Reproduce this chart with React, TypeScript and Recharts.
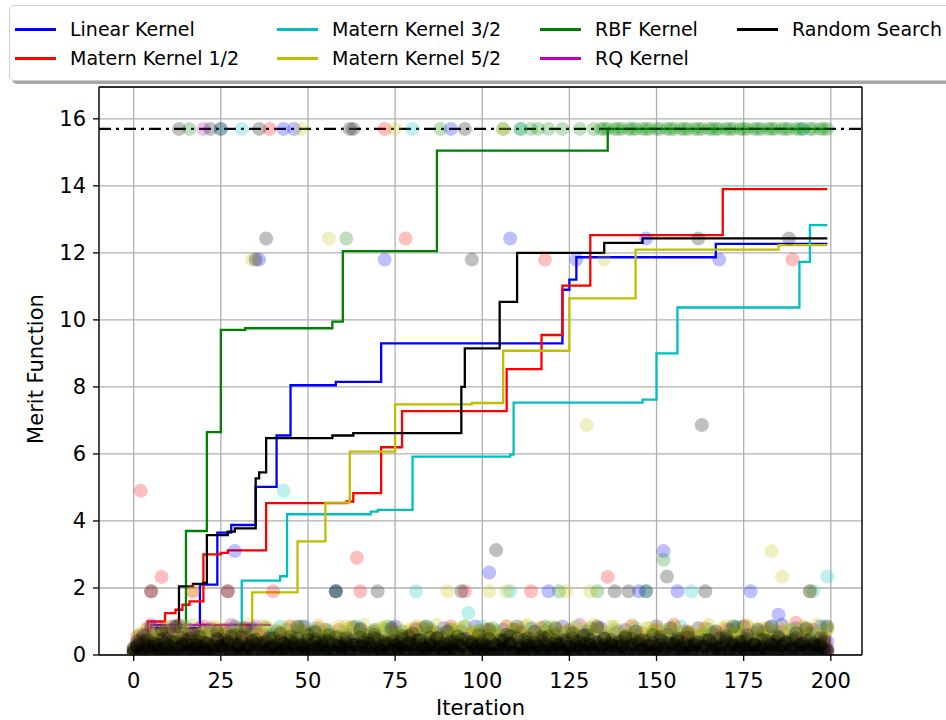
import React from "react";
import {
  ComposedChart,
  Scatter,
  Line,
  XAxis,
  YAxis,
  CartesianGrid,
  ReferenceLine,
} from "recharts";

const xTicks = [0, 25, 50, 75, 100, 125, 150, 175, 200];
const yTicks = [0, 2, 4, 6, 8, 10, 12, 14, 16];
const optimum = 15.7;

// merit value sampled at each iteration (index = iteration)
const linearPts = [
  0.1, 0.3, 0.5, 0.2, 0.6, 0.8, 0.4, 0.15, 0.7, 0.3, 0.05, 0.55, 0.2, 0.85, 0.35, 0.1, 0.6, 0.25, 0.45, 0.8,
  0.3, 0.1, 0.65, 0.2, 0.5, 15.7, 0.4, 0.15, 0.75, 3.1, 0.25, 0.6, 0.05, 0.45, 0.8, 0.2, 11.8, 0.35, 0.1, 0.55,
  0.3, 0.7, 0.15, 15.7, 0.5, 0.25, 15.7, 0.6, 0.1, 0.85, 0.35, 0.2, 0.65, 0.05, 0.4, 0.75, 0.3, 0.15, 1.9, 0.5,
  0.2, 0.6, 15.7, 0.35, 0.1, 0.8, 0.25, 0.45, 0.05, 0.7, 0.3, 0.55, 11.8, 0.15, 0.4, 0.85, 0.2, 0.6, 0.1, 0.5,
  0.35, 0.75, 0.2, 0.45, 0.05, 0.65, 0.3, 0.15, 0.55, 0.8, 0.25, 15.7, 0.4, 0.1, 0.7, 0.3, 0.5, 0.2, 0.85, 0.35,
  0.15, 0.6, 2.46, 0.25, 0.45, 0.1, 0.75, 0.3, 12.43, 0.55, 0.2, 0.65, 0.05, 0.4, 0.8, 0.25, 0.5, 0.15, 0.7, 1.9,
  0.3, 0.55, 0.1, 0.85, 0.4, 0.2, 0.6, 11.8, 0.35, 0.05, 0.7, 0.25, 0.45, 0.15, 0.8, 0.3, 0.5, 0.1, 0.65, 0.4,
  0.2, 0.75, 0.35, 0.05, 0.55, 1.9, 0.25, 12.43, 0.45, 0.1, 0.85, 0.3, 3.1, 0.6, 0.15, 0.4, 1.9, 0.2, 0.7, 0.35,
  0.5, 0.1, 0.8, 0.25, 0.45, 0.05, 0.65, 0.3, 11.8, 0.55, 0.2, 0.75, 0.4, 0.15, 0.6, 0.85, 0.3, 1.9, 0.1, 0.5,
  0.25, 0.7, 0.45, 0.05, 0.6, 1.2, 0.9, 0.35, 0.15, 0.55, 0.8, 0.2, 0.45, 0.1, 0.65, 0.3, 0.5, 0.85, 0.2, 0.4,
];

const matern12Pts = [
  0.2, 0.55, 4.9, 0.35, 0.8, 1.9, 0.15, 0.6, 2.33, 0.4, 0.05, 0.7, 0.25, 0.9, 0.45, 0.1, 0.65, 1.9, 0.3, 0.5,
  0.85, 0.2, 0.4, 0.05, 0.6, 0.3, 0.75, 1.9, 0.15, 0.5, 0.35, 0.8, 0.1, 0.45, 0.25, 0.7, 0.05, 0.55, 0.3, 15.7,
  1.9, 0.2, 0.6, 0.4, 0.1, 0.85, 0.3, 0.5, 0.15, 0.7, 0.25, 0.45, 0.05, 0.8, 0.35, 0.6, 0.2, 0.4, 0.1, 0.75,
  0.3, 0.55, 0.15, 0.85, 2.9, 1.9, 0.4, 0.05, 0.65, 0.25, 0.5, 0.1, 15.7, 0.35, 0.7, 0.2, 0.45, 0.05, 12.43, 0.6,
  0.3, 0.8, 0.15, 0.5, 0.35, 0.05, 0.7, 0.25, 0.6, 0.1, 0.45, 0.85, 0.2, 0.55, 0.35, 1.9, 0.15, 0.65, 0.3, 0.05,
  0.5, 0.75, 0.2, 0.4, 0.1, 0.6, 0.3, 0.85, 0.15, 0.45, 0.05, 0.7, 0.25, 0.55, 1.9, 0.35, 0.1, 0.8, 11.8, 0.4,
  0.2, 0.65, 0.05, 0.5, 0.3, 0.75, 0.15, 0.45, 0.9, 0.25, 0.6, 0.1, 0.4, 0.8, 0.2, 0.55, 2.33, 0.35, 0.05, 0.7,
  0.3, 0.5, 0.15, 0.85, 0.4, 0.1, 0.65, 0.25, 0.45, 0.05, 0.75, 0.35, 0.2, 0.6, 0.1, 0.9, 0.3, 0.5, 0.15, 0.7,
  0.4, 0.05, 0.55, 0.25, 0.8, 0.35, 0.1, 0.6, 0.2, 0.45, 0.75, 0.3, 0.05, 0.5, 0.15, 0.85, 0.4, 0.25, 0.65, 0.1,
  0.55, 0.3, 0.8, 0.15, 0.45, 0.05, 0.7, 0.35, 0.2, 11.8, 0.96, 0.4, 0.1, 0.6, 0.25, 0.75, 0.3, 0.05, 0.5, 0.2,
];

const matern32Pts = [
  0.05, 0.25, 0.1, 0.4, 0.2, 0.6, 0.15, 0.35, 0.05, 0.5, 0.3, 0.75, 0.1, 0.45, 0.2, 0.85, 0.35, 0.05, 0.55, 0.25,
  0.4, 0.7, 0.15, 0.5, 0.3, 0.05, 0.65, 0.2, 0.45, 0.8, 0.1, 15.7, 0.35, 0.55, 0.2, 0.75, 0.05, 0.4, 0.3, 0.6,
  0.15, 0.5, 0.85, 4.9, 0.25, 0.45, 0.1, 0.7, 0.35, 0.05, 0.55, 0.2, 0.8, 0.4, 0.15, 0.6, 0.3, 0.05, 0.5, 0.25,
  0.7, 0.1, 0.45, 0.3, 0.85, 0.2, 0.55, 0.05, 0.4, 0.65, 0.15, 0.35, 0.75, 0.25, 0.5, 0.1, 0.6, 0.3, 0.45, 0.05,
  15.7, 1.9, 0.2, 0.55, 0.35, 0.8, 0.1, 0.45, 0.25, 0.65, 0.05, 0.4, 0.7, 0.2, 0.5, 0.3, 1.25, 0.15, 0.6, 0.35,
  0.85, 0.1, 0.45, 0.25, 0.7, 0.05, 0.5, 0.3, 1.9, 0.2, 0.6, 15.7, 0.4, 0.15, 0.75, 0.35, 0.05, 0.55, 0.25, 0.8,
  0.1, 0.45, 0.3, 0.65, 0.2, 0.5, 0.05, 0.85, 0.35, 0.15, 0.6, 0.25, 0.4, 0.7, 0.1, 0.55, 0.3, 0.05, 0.75, 0.2,
  0.45, 0.6, 0.15, 0.35, 0.8, 0.05, 0.5, 1.9, 0.25, 0.65, 0.1, 0.4, 0.3, 0.7, 0.2, 0.55, 0.05, 0.85, 0.35, 0.15,
  1.9, 0.45, 0.25, 0.6, 0.1, 0.75, 0.3, 0.5, 0.05, 0.4, 0.2, 0.65, 0.35, 0.8, 0.15, 0.45, 0.05, 0.55, 0.3, 0.7,
  0.2, 0.5, 0.1, 0.85, 0.35, 0.6, 0.25, 0.05, 0.45, 0.75, 0.15, 0.4, 15.7, 0.3, 0.55, 1.9, 0.65, 0.2, 0.85, 2.34,
];

const matern52Pts = [
  0.02, 0.15, 0.3, 0.1, 0.45, 0.2, 0.6, 0.05, 0.35, 0.75, 0.25, 0.5, 0.1, 0.4, 0.85, 0.2, 0.55, 1.9, 0.3, 0.05,
  0.65, 0.35, 0.15, 0.5, 0.8, 0.25, 0.05, 0.6, 0.4, 0.2, 0.7, 0.1, 0.45, 0.3, 11.8, 0.55, 0.15, 0.85, 0.35, 0.05,
  0.5, 0.25, 0.7, 0.1, 0.4, 0.6, 0.2, 0.8, 15.7, 0.3, 0.05, 0.55, 0.35, 0.15, 0.75, 0.45, 12.43, 0.25, 0.6, 0.1,
  0.4, 0.85, 15.7, 0.2, 0.5, 0.05, 0.7, 0.3, 0.15, 0.55, 0.35, 0.8, 0.1, 0.45, 0.25, 15.7, 0.6, 0.05, 0.4, 0.75,
  0.2, 0.5, 0.3, 0.85, 0.1, 0.65, 0.35, 0.05, 0.45, 0.25, 1.9, 0.6, 0.15, 0.8, 0.4, 0.2, 0.55, 0.05, 0.7, 0.3,
  0.45, 0.1, 1.9, 0.65, 0.25, 0.5, 15.7, 1.9, 0.35, 0.75, 0.15, 0.4, 0.85, 0.05, 0.6, 0.3, 0.5, 0.2, 0.7, 0.1,
  0.55, 0.35, 0.8, 0.15, 1.9, 0.45, 0.05, 0.65, 0.25, 0.4, 6.86, 1.9, 0.3, 0.75, 0.1, 11.8, 0.5, 0.2, 0.85, 0.35,
  0.05, 0.6, 0.25, 0.45, 0.7, 0.15, 0.5, 0.35, 0.8, 0.1, 0.4, 0.65, 0.2, 0.55, 0.05, 0.85, 0.3, 0.45, 0.15, 0.7,
  0.25, 0.6, 0.1, 0.4, 0.75, 0.2, 0.5, 0.05, 0.35, 0.8, 0.15, 0.55, 0.3, 0.65, 0.1, 0.45, 0.85, 0.25, 0.6, 0.35,
  0.05, 0.7, 0.2, 3.1, 0.5, 0.3, 2.34, 0.15, 0.75, 0.4, 0.1, 0.55, 0.85, 0.25, 1.9, 0.45, 0.05, 0.6, 0.3, 0.8,
];

// second batch of Matern 5/2 samples, all in the low band
const matern52Batch2 = [
  0.2, 0.45, 0.65, 0.3, 0.8, 0.5, 0.35, 0.7, 0.55, 0.25, 0.85, 0.4, 0.6, 0.3, 0.75, 0.5, 0.35, 0.9, 0.45, 0.6,
  0.7, 0.4, 0.55, 0.85, 0.3, 0.65, 0.45, 0.8, 0.35, 0.6, 0.5, 0.75, 0.4, 0.9, 0.55, 0.3, 0.7, 0.45, 0.85, 0.5,
  0.35, 0.75, 0.6, 0.4, 0.85, 0.5, 0.3, 0.7, 0.45, 0.8, 0.55, 0.35, 0.65, 0.9, 0.4, 0.6, 0.75, 0.3, 0.5, 0.85,
  0.6, 0.45, 0.8, 0.35, 0.7, 0.55, 0.9, 0.4, 0.65, 0.3, 0.75, 0.5, 0.85, 0.45, 0.6, 0.35, 0.8, 0.55, 0.4, 0.7,
  0.5, 0.85, 0.4, 0.65, 0.3, 0.75, 0.55, 0.9, 0.45, 0.6, 0.35, 0.8, 0.5, 0.7, 0.4, 0.85, 0.3, 0.65, 0.55, 0.75,
  0.4, 0.6, 0.8, 0.45, 0.7, 0.35, 0.55, 0.85, 0.5, 0.3, 0.75, 0.6, 0.4, 0.9, 0.65, 0.45, 0.8, 0.35, 0.55, 0.7,
  0.85, 0.5, 0.35, 0.7, 0.6, 0.4, 0.8, 0.55, 0.3, 0.75, 0.45, 0.65, 0.9, 0.5, 0.35, 0.7, 0.6, 0.85, 0.4, 0.55,
  0.45, 0.7, 0.55, 0.9, 0.35, 0.6, 0.5, 0.8, 0.4, 0.65, 0.85, 0.3, 0.75, 0.55, 0.45, 0.8, 0.35, 0.6, 0.7, 0.5,
  0.65, 0.35, 0.8, 0.5, 0.6, 0.9, 0.4, 0.7, 0.55, 0.3, 0.85, 0.45, 0.65, 0.75, 0.35, 0.55, 0.9, 0.5, 0.4, 0.8,
  0.55, 0.8, 0.4, 0.7, 0.45, 0.65, 0.85, 0.35, 0.6, 0.75, 0.5, 0.3, 0.8, 0.55, 0.7, 0.4, 0.9, 0.6, 0.45, 0.75,
];

const rbfPts = [
  0.1, 0.35, 0.6, 0.2, 0.45, 0.8, 0.05, 0.5, 0.3, 0.7, 0.15, 0.4, 0.85, 0.25, 0.55, 0.1, 15.7, 0.35, 0.65, 0.2,
  0.45, 0.05, 0.75, 0.3, 0.5, 15.7, 0.15, 0.6, 0.4, 0.85, 0.2, 0.05, 0.55, 0.35, 0.7, 0.1, 0.45, 0.25, 0.8, 0.3,
  0.6, 0.15, 0.4, 0.05, 0.75, 0.25, 0.5, 0.35, 0.85, 0.1, 0.45, 0.65, 0.2, 0.3, 0.55, 0.05, 0.7, 0.4, 1.9, 0.15,
  0.5, 12.43, 0.25, 0.8, 0.35, 0.1, 0.6, 0.45, 0.2, 0.75, 0.05, 0.4, 0.3, 0.85, 0.15, 0.55, 0.25, 0.7, 0.05, 0.45,
  0.35, 0.6, 0.1, 0.8, 0.3, 0.5, 0.2, 0.65, 15.7, 0.4, 0.05, 0.75, 0.25, 0.55, 0.15, 0.85, 0.35, 0.1, 0.45, 0.7,
  0.2, 0.55, 0.3, 0.8, 0.05, 0.4, 15.7, 0.6, 0.25, 0.75, 0.15, 15.7, 0.5, 0.35, 15.7, 0.1, 15.7, 0.45, 0.85, 15.7,
  0.3, 0.6, 1.9, 15.7, 0.2, 0.7, 0.05, 0.4, 15.7, 0.55, 0.25, 0.8, 15.7, 1.9, 15.7, 15.7, 15.7, 0.35, 15.7, 15.7,
  15.7, 0.5, 15.7, 15.7, 15.7, 0.15, 15.7, 15.7, 15.7, 0.7, 15.7, 15.7, 2.84, 15.7, 15.7, 15.7, 0.4, 15.7, 15.7, 15.7,
  0.25, 15.7, 15.7, 15.7, 0.6, 15.7, 15.7, 15.7, 15.7, 0.1, 15.7, 15.7, 15.7, 0.85, 15.7, 15.7, 15.7, 0.3, 15.7, 15.7,
  15.7, 0.55, 15.7, 15.7, 15.7, 0.2, 15.7, 15.7, 15.7, 0.45, 15.7, 15.7, 15.7, 0.75, 15.7, 15.7, 0.05, 15.7, 15.7, 15.7,
];

// RQ kernel only ran 40 iterations
const rqPts = [
  0.05, 0.3, 0.45, 0.15, 0.6, 0.9, 0.25, 0.5, 0.1, 0.7, 0.35, 0.85, 0.2, 0.55, 0.05, 0.4, 0.75, 0.3, 0.6, 0.15,
  15.7, 0.45, 0.8, 0.25, 0.5, 0.1, 0.65, 0.35, 0.9, 0.2, 0.55, 0.05, 0.4, 0.7, 0.3, 0.85, 0.15, 0.6, 0.45, 0.25,
];

const randomPts = [
  0.15, 0.4, 0.05, 0.6, 0.25, 1.9, 0.35, 0.1, 0.75, 0.2, 0.5, 0.05, 0.85, 15.7, 0.3, 0.45, 0.1, 0.65, 0.2, 0.55,
  0.05, 0.35, 15.7, 0.15, 0.7, 0.25, 0.45, 1.9, 0.1, 0.6, 0.3, 0.05, 0.8, 0.2, 0.4, 11.8, 15.7, 0.15, 12.43, 0.5,
  0.25, 0.05, 0.65, 0.35, 0.1, 0.55, 0.2, 0.85, 0.3, 0.05, 0.45, 0.15, 0.7, 0.25, 0.4, 0.1, 0.6, 0.05, 1.9, 0.35,
  0.2, 0.5, 0.1, 15.7, 0.3, 0.75, 0.05, 0.45, 0.25, 0.6, 1.9, 0.15, 0.4, 0.05, 0.8, 0.3, 0.2, 0.55, 0.1, 0.35,
  0.65, 0.05, 0.45, 0.2, 0.85, 0.3, 0.1, 0.5, 0.25, 0.05, 0.7, 0.35, 0.15, 0.55, 1.9, 15.7, 0.4, 11.8, 0.2, 0.6,
  0.1, 0.3, 0.75, 0.05, 3.13, 0.45, 0.2, 0.6, 0.35, 0.1, 0.85, 0.25, 0.05, 0.5, 0.3, 0.7, 0.15, 0.4, 0.05, 0.55,
  0.2, 0.8, 0.35, 0.1, 0.45, 0.05, 0.65, 0.25, 0.4, 0.15, 0.6, 0.3, 0.05, 0.85, 0.2, 0.5, 0.1, 0.35, 1.9, 0.25,
  0.05, 0.55, 1.9, 0.3, 0.7, 0.15, 0.45, 1.9, 0.1, 0.6, 0.25, 0.05, 0.4, 2.34, 0.8, 0.2, 0.5, 0.1, 0.35, 0.65,
  0.05, 0.3, 12.43, 6.86, 1.9, 0.45, 0.15, 0.7, 0.25, 0.05, 0.55, 0.35, 0.85, 0.1, 0.4, 0.2, 0.6, 0.05, 0.3, 0.75,
  0.15, 0.45, 0.05, 0.85, 0.25, 0.55, 0.1, 0.4, 12.43, 0.2, 0.65, 0.05, 0.35, 0.8, 1.9, 0.3, 0.15, 0.5, 0.05, 0.85,
];

// extra random-search batches, they pile up near zero
const randomBatch2 = [
  0.2, 0.05, 0.35, 0.1, 0.45, 0.25, 0.02, 0.3, 0.15, 0.5, 0.08, 0.4, 0.22, 0.03, 0.33, 0.12, 0.48, 0.18, 0.28, 0.06,
  0.38, 0.14, 0.02, 0.26, 0.44, 0.1, 0.32, 0.2, 0.55, 0.05, 0.24, 0.4, 0.12, 0.3, 0.02, 0.46, 0.16, 0.36, 0.08, 0.22,
  0.5, 0.18, 0.04, 0.34, 0.12, 0.42, 0.26, 0.06, 0.3, 0.2, 0.6, 0.1, 0.38, 0.02, 0.24, 0.44, 0.14, 0.32, 0.08, 0.28,
  0.16, 0.4, 0.06, 0.3, 0.22, 0.52, 0.02, 0.36, 0.18, 0.1, 0.46, 0.26, 0.04, 0.34, 0.14, 0.42, 0.2, 0.08, 0.3, 0.56,
  0.1, 0.28, 0.44, 0.04, 0.2, 0.36, 0.12, 0.5, 0.24, 0.02, 0.32, 0.16, 0.4, 0.08, 0.26, 0.48, 0.06, 0.34, 0.18, 0.3,
  0.42, 0.08, 0.22, 0.36, 0.02, 0.28, 0.46, 0.14, 0.32, 0.06, 0.5, 0.2, 0.1, 0.38, 0.24, 0.04, 0.3, 0.54, 0.16, 0.26,
  0.06, 0.34, 0.18, 0.44, 0.1, 0.26, 0.02, 0.4, 0.2, 0.58, 0.12, 0.3, 0.08, 0.36, 0.22, 0.48, 0.04, 0.28, 0.14, 0.38,
  0.24, 0.5, 0.1, 0.32, 0.04, 0.42, 0.18, 0.28, 0.06, 0.36, 0.14, 0.46, 0.22, 0.02, 0.34, 0.12, 0.4, 0.26, 0.08, 0.52,
  0.3, 0.14, 0.38, 0.06, 0.24, 0.44, 0.1, 0.32, 0.2, 0.02, 0.48, 0.16, 0.36, 0.08, 0.28, 0.42, 0.04, 0.22, 0.34, 0.12,
  0.46, 0.2, 0.06, 0.3, 0.4, 0.12, 0.26, 0.02, 0.36, 0.18, 0.5, 0.08, 0.32, 0.24, 0.44, 0.1, 0.28, 0.04, 0.38, 0.16,
];

const randomBatch3 = [
  0.04, 0.28, 0.12, 0.4, 0.2, 0.06, 0.34, 0.16, 0.46, 0.02, 0.26, 0.1, 0.38, 0.22, 0.5, 0.08, 0.3, 0.14, 0.42, 0.24,
  0.1, 0.36, 0.2, 0.04, 0.48, 0.28, 0.14, 0.4, 0.06, 0.32, 0.18, 0.52, 0.02, 0.26, 0.44, 0.12, 0.34, 0.08, 0.4, 0.2,
  0.3, 0.06, 0.42, 0.16, 0.26, 0.02, 0.36, 0.5, 0.1, 0.22, 0.32, 0.04, 0.46, 0.18, 0.28, 0.08, 0.4, 0.14, 0.54, 0.24,
  0.02, 0.32, 0.14, 0.44, 0.08, 0.26, 0.38, 0.18, 0.04, 0.5, 0.22, 0.12, 0.34, 0.06, 0.42, 0.28, 0.16, 0.48, 0.1, 0.36,
  0.22, 0.44, 0.06, 0.3, 0.16, 0.52, 0.26, 0.02, 0.36, 0.12, 0.2, 0.42, 0.08, 0.32, 0.46, 0.14, 0.04, 0.38, 0.24, 0.1,
  0.34, 0.16, 0.48, 0.04, 0.28, 0.1, 0.4, 0.22, 0.56, 0.12, 0.3, 0.02, 0.44, 0.18, 0.08, 0.36, 0.26, 0.14, 0.5, 0.06,
  0.18, 0.42, 0.28, 0.08, 0.36, 0.14, 0.5, 0.04, 0.24, 0.32, 0.1, 0.46, 0.2, 0.38, 0.02, 0.3, 0.12, 0.44, 0.26, 0.06,
  0.4, 0.1, 0.24, 0.48, 0.02, 0.34, 0.16, 0.42, 0.28, 0.08, 0.2, 0.54, 0.12, 0.36, 0.06, 0.3, 0.46, 0.18, 0.04, 0.26,
  0.14, 0.38, 0.02, 0.26, 0.44, 0.1, 0.32, 0.2, 0.5, 0.06, 0.4, 0.16, 0.28, 0.04, 0.36, 0.22, 0.48, 0.12, 0.3, 0.08,
  0.24, 0.06, 0.4, 0.16, 0.3, 0.5, 0.1, 0.36, 0.02, 0.44, 0.2, 0.28, 0.08, 0.42, 0.14, 0.34, 0.04, 0.26, 0.46, 0.12,
];

const randomBatch4 = [
  0.1, 0.22, 0.02, 0.3, 0.14, 0.06, 0.26, 0.18, 0.04, 0.34, 0.12, 0.24, 0.02, 0.2, 0.08, 0.32, 0.16, 0.04, 0.28, 0.1,
  0.2, 0.06, 0.3, 0.12, 0.02, 0.24, 0.16, 0.34, 0.08, 0.18, 0.28, 0.04, 0.14, 0.22, 0.02, 0.32, 0.1, 0.26, 0.06, 0.18,
  0.04, 0.28, 0.12, 0.2, 0.32, 0.08, 0.16, 0.02, 0.26, 0.14, 0.06, 0.3, 0.2, 0.1, 0.34, 0.04, 0.22, 0.12, 0.28, 0.08,
  0.24, 0.02, 0.18, 0.3, 0.1, 0.06, 0.26, 0.14, 0.32, 0.04, 0.2, 0.12, 0.28, 0.02, 0.16, 0.08, 0.34, 0.22, 0.06, 0.14,
  0.3, 0.12, 0.04, 0.22, 0.16, 0.28, 0.02, 0.18, 0.1, 0.32, 0.06, 0.24, 0.14, 0.04, 0.26, 0.2, 0.08, 0.3, 0.12, 0.02,
  0.16, 0.26, 0.08, 0.02, 0.3, 0.14, 0.2, 0.06, 0.34, 0.1, 0.22, 0.04, 0.18, 0.28, 0.12, 0.02, 0.24, 0.08, 0.32, 0.16,
  0.06, 0.2, 0.3, 0.12, 0.02, 0.24, 0.1, 0.28, 0.16, 0.04, 0.34, 0.18, 0.08, 0.26, 0.14, 0.02, 0.22, 0.3, 0.1, 0.06,
  0.28, 0.14, 0.04, 0.2, 0.32, 0.08, 0.18, 0.02, 0.26, 0.12, 0.06, 0.3, 0.16, 0.22, 0.04, 0.34, 0.1, 0.2, 0.02, 0.24,
  0.12, 0.3, 0.06, 0.18, 0.26, 0.02, 0.14, 0.22, 0.08, 0.32, 0.1, 0.04, 0.28, 0.16, 0.2, 0.06, 0.24, 0.02, 0.3, 0.12,
  0.22, 0.04, 0.16, 0.34, 0.08, 0.2, 0.28, 0.12, 0.02, 0.26, 0.14, 0.3, 0.06, 0.18, 0.1, 0.24, 0.02, 0.32, 0.16, 0.08,
];

// best merit found so far: [iteration, value] at every change
const linearBest = [
  [0, 0.2], [2, 0.5], [5, 0.8], [19, 2.1], [24, 3.65], [28, 3.88], [35, 5.02], [41, 6.55],
  [45, 8.05], [58, 8.15], [71, 9.3], [123, 10.9], [125, 11.2], [127, 11.87], [167, 12.27], [199, 12.27],
];
const matern12Best = [
  [0, 0.3], [1, 0.6], [4, 1.0], [9, 1.25], [12, 1.35], [14, 1.5], [16, 1.6], [20, 3.0], [25, 3.05],
  [27, 3.12], [38, 4.53], [61, 4.58], [63, 4.83], [71, 6.2], [77, 7.28], [107, 8.53], [117, 9.55],
  [123, 11.02], [131, 12.53], [169, 13.9], [199, 13.9],
];
const matern32Best = [
  [0, 0.1], [3, 0.3], [8, 0.45], [14, 0.55], [20, 0.65], [25, 0.7], [31, 2.22], [42, 2.35], [44, 4.2],
  [68, 4.28], [70, 4.33], [80, 5.92], [108, 5.98], [109, 7.53], [146, 7.62], [150, 9.0], [156, 10.37],
  [191, 11.73], [194, 12.83], [199, 12.83],
];
const matern52Best = [
  [0, 0.05], [4, 0.2], [9, 0.35], [13, 0.55], [17, 0.7], [33, 0.75], [34, 1.87], [47, 3.39], [55, 4.55],
  [62, 6.07], [75, 7.48], [97, 7.52], [106, 9.08], [125, 10.64], [144, 12.1], [185, 12.23], [199, 12.23],
];
const rbfBest = [
  [0, 0.3], [1, 0.5], [3, 0.6], [8, 0.7], [15, 3.7], [21, 6.65], [25, 9.7], [32, 9.75], [57, 9.95],
  [60, 12.05], [87, 15.05], [136, 15.7], [199, 15.7],
];
const rqBest = [[0, 0.15], [2, 0.45], [4, 0.6], [5, 0.9], [39, 0.92]];
const randomBest = [
  [0, 0.25], [2, 0.4], [5, 0.6], [8, 0.75], [13, 2.05], [17, 2.12], [20, 2.15], [21, 3.58], [27, 3.68],
  [29, 3.78], [35, 5.27], [36, 5.45], [38, 6.47], [57, 6.55], [63, 6.62], [94, 8.0], [95, 9.15],
  [105, 10.54], [110, 12.0], [135, 12.3], [146, 12.43], [199, 12.43],
];

const seriesNames = [
  "Linear Kernel",
  "Matern Kernel 1/2",
  "Matern Kernel 3/2",
  "Matern Kernel 5/2",
  "RBF Kernel",
  "RQ Kernel",
  "Random Search",
];
const seriesColors = ["#0000ff", "#ff0000", "#00bfbf", "#bfbf00", "#008000", "#bf00bf", "#000000"];
const seriesBest = [linearBest, matern12Best, matern32Best, matern52Best, rbfBest, rqBest, randomBest];

// scatter layers in drawing order (later ones sit on top)
const scatterLayers = [
  { color: seriesColors[0], values: linearPts },
  { color: seriesColors[1], values: matern12Pts },
  { color: seriesColors[2], values: matern32Pts },
  { color: seriesColors[4], values: rbfPts },
  { color: seriesColors[5], values: rqPts },
  { color: seriesColors[3], values: matern52Pts },
  { color: seriesColors[3], values: matern52Batch2 },
  { color: seriesColors[6], values: randomPts },
  { color: seriesColors[6], values: randomBatch2 },
  { color: seriesColors[6], values: randomBatch3 },
  { color: seriesColors[6], values: randomBatch4 },
].map((l) => ({ color: l.color, points: l.values.map((y, x) => ({ x, y })) }));

const lines = seriesNames.map((name, i) => ({
  name,
  color: seriesColors[i],
  best: seriesBest[i].map(([x, y]) => ({ x, y })),
}));

const FONT = "'DejaVu Sans', 'Liberation Sans', sans-serif";
const tickStyle = { fontSize: 21, fill: "#000", fontFamily: FONT };

// legend laid out column-major, 4 columns x 2 rows like matplotlib ncol=4
const legendColX = [15, 277, 540, 737];
const legendRowY = [29, 58];

const dot = (color: string) => (p: any) =>
  p.cx == null ? <g /> : <circle cx={p.cx} cy={p.cy} r={7} fill={color} fillOpacity={0.25} />;

export default function App() {
  return (
    <div
      style={{
        position: "absolute",
        left: 0,
        top: 0,
        width: 946,
        height: 720,
        background: "#fff",
        fontFamily: FONT,
        overflow: "hidden",
      }}
    >
      <ComposedChart width={946} height={720} margin={{ top: 87, right: 84, bottom: 0, left: 0 }}>
        <CartesianGrid stroke="#b0b0b0" strokeWidth={1.3} />
        <XAxis
          type="number"
          dataKey="x"
          domain={[-9.95, 208.95]}
          ticks={xTicks}
          allowDataOverflow
          height={65}
          tick={tickStyle}
          tickSize={6}
          tickMargin={12}
          axisLine={{ stroke: "#000", strokeWidth: 1.3 }}
          tickLine={{ stroke: "#000", strokeWidth: 1.3 }}
        />
        <YAxis
          type="number"
          dataKey="y"
          domain={[0, 16.95]}
          ticks={yTicks}
          allowDataOverflow
          width={99}
          tick={tickStyle}
          tickSize={6}
          tickMargin={7}
          axisLine={{ stroke: "#000", strokeWidth: 1.3 }}
          tickLine={{ stroke: "#000", strokeWidth: 1.3 }}
        />
        {scatterLayers.map((l, i) => (
          <Scatter
            key={"pts-" + i}
            data={l.points}
            dataKey="y"
            shape={dot(l.color)}
            isAnimationActive={false}
          />
        ))}
        {lines.map((s) => (
          <Line
            key={"best-" + s.name}
            data={s.best}
            dataKey="y"
            type="stepAfter"
            stroke={s.color}
            strokeWidth={2.3}
            dot={false}
            activeDot={false}
            isAnimationActive={false}
          />
        ))}
        <ReferenceLine
          y={optimum}
          stroke="#000"
          strokeWidth={2.4}
          strokeDasharray="12 5 3 5"
        />
        <ReferenceLine y={16.95} stroke="#000" strokeWidth={1.3} />
        <ReferenceLine x={208.95} stroke="#000" strokeWidth={1.3} />
      </ComposedChart>

      <div
        style={{
          position: "absolute",
          left: 380,
          width: 201,
          top: 695,
          textAlign: "center",
          fontSize: 21,
          lineHeight: "26px",
          color: "#000",
        }}
      >
        Iteration
      </div>
      <div
        style={{
          position: "absolute",
          left: 36 - 100,
          top: 369 - 13,
          width: 200,
          textAlign: "center",
          fontSize: 21,
          lineHeight: "26px",
          color: "#000",
          transform: "rotate(-90deg)",
        }}
      >
        Merit Function
      </div>

      <div
        style={{
          position: "absolute",
          left: 9,
          top: 5,
          width: 960,
          height: 74,
          border: "1px solid #cfcfcf",
          borderRadius: 5,
          background: "rgba(255,255,255,0.9)",
          boxShadow: "3px 3px 0 rgba(0,0,0,0.35)",
        }}
      />
      {lines.map((s, i) => {
        const x = legendColX[Math.floor(i / 2)];
        const y = legendRowY[i % 2];
        return (
          <div key={"leg-" + s.name}>
            <div
              style={{
                position: "absolute",
                left: x,
                top: y - 1.5,
                width: 41,
                height: 3,
                background: s.color,
              }}
            />
            <div
              style={{
                position: "absolute",
                left: x + 55,
                top: y - 12,
                fontSize: 19,
                lineHeight: "24px",
                color: "#000",
                whiteSpace: "nowrap",
              }}
            >
              {s.name}
            </div>
          </div>
        );
      })}
    </div>
  );
}
